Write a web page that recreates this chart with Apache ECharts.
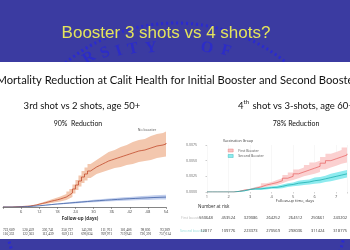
<!DOCTYPE html>
<html>
<head>
<meta charset="utf-8">
<title>Booster 3 shots vs 4 shots?</title>
<script src="https://cdn.jsdelivr.net/npm/echarts@6/dist/echarts.min.js"></script>
<style>
  html, body { margin:0; padding:0; background:#fff; }
  #main { width:350px; height:250px; }
</style>
</head>
<body>
<div id="main"></div>
<script>
// ---- left panel: 3rd shot vs 2 shots (follow-up days) ----
var leftDaysFine = [0,1,2,3,4,5,6,7,8,9,10,11,12,13,14,15,16,17,18,19,20,21,22,23,24,25,26,27,28,29,30,31,32,33,34,35,36,37,38,39,40,41,42,43,44,45,46,47,48,49,50,51,52,53,54];
var noBoosterMid = [0,0,0,0.2,0.3,0.4,0.6,0.8,1,1.5, 2,2.8,3.5,4.2,5,5.8,6.5,7.2,8,9, 10,12,14,18,22,26,30,33,36,38,
                    40,41.5,43,44.5,46,47,48,49,50,51, 52,53,54,55,56,56.5,57,58,59,60, 61,61.5,62,63,64];
var noBoosterLo  = [0,0,0,0.1,0.2,0.3,0.4,0.5,0.7,1.1, 1.5,2,2.5,3,3.5,4,4.5,5,5.5,6.2, 7,8.5,10,13.5,17,20.5,24,26.5,29,31,
                    33,34,35,36,37,38,39,39.5,40,41, 42,42.5,43,44,45,45.5,46,46.5,47,48, 49,49.5,50,50.5,51];
var noBoosterHi  = [0,0,0,0.3,0.4,0.6,0.8,1,1.3,1.9, 2.5,3.5,4.5,5.5,6.5,7.5,8.5,9.5,10.5,11.8, 13,15.5,18,22.5,27,31.5,36,39.5,43,45,
                    47,49,51,53,55,56,57,58.5,60,61, 62,63.5,65,66,67,67.5,68,69.5,71,72, 73,73.5,74,75.5,77];
var leftDays = [0,2,4,6,8,10,12,14,16,18,20,22,24,26,28,30,32,34,36,38,40,42,44,46,48,50,52,54];
var boosterMid = [0,0,0.2,0.4,0.8,1.2,1.8,2.4,3,3.5,4,4.5,5,5.5,6,6.4,6.8,7.2,7.6,8,8.3,8.6,8.9,9.2,9.5,9.7,9.9,10];
var boosterLo  = [0,0,0.1,0.3,0.6,0.9,1.4,1.9,2.4,2.8,3.2,3.6,4.0,4.4,4.8,5.1,5.4,5.7,6.0,6.3,6.5,6.7,6.9,7.1,7.3,7.4,7.5,7.6];
var boosterHi  = [0,0,0.3,0.5,1.0,1.5,2.2,2.9,3.6,4.2,4.8,5.4,6.0,6.6,7.2,7.7,8.2,8.7,9.2,9.7,10.1,10.5,10.9,11.3,11.7,12.0,12.3,12.5];
var leftRiskNo  = ['723,609','520,459','336,741','250,737','145,281','111,761','101,406','98,836','93,389'];
var leftRiskYes = ['110,332','122,303','113,439','659,113','696,834','709,971','719,943','726,391','757,614'];

// ---- right panel: 4th shot vs 3 shots ----
var rightT = [0,0.25,0.5,0.75,1,1.25,1.5,1.75,2,2.25,2.5,2.75,3,3.25,3.5,3.75,4,4.25,4.5,4.75,5,5.25,5.5,5.75,6,6.25,6.5];
var rightTickLabels = ['1','2','3','4','5','6','7'];
var firstMid = [0,0,0,0,0,0.0001,0.0003,0.0004,0.0006,0.0008,0.0011,0.0013,0.0015,0.0018,0.0022,0.0025,0.0029,0.0032,0.0035,0.0038,0.0041,0.0046,0.0050,0.0053,0.0056,0.0059,0.0061];
var firstLo  = [0,0,0,0,0,0.00005,0.0002,0.0003,0.0004,0.0006,0.0008,0.0010,0.0011,0.0014,0.0017,0.0019,0.0022,0.0025,0.0027,0.0029,0.0032,0.0036,0.0039,0.0042,0.0045,0.0047,0.0049];
var firstHi  = [0,0,0,0,0,0.00015,0.0004,0.0005,0.0008,0.0010,0.0014,0.0016,0.0019,0.0022,0.0027,0.0031,0.0036,0.0039,0.0043,0.0047,0.0050,0.0056,0.0061,0.0064,0.0067,0.0071,0.0073];
var secondMid = [0,0,0,0,0,0.0001,0.0002,0.0004,0.0005,0.0005,0.0006,0.0007,0.00075,0.0009,0.0011,0.0012,0.0014,0.0015,0.0016,0.0018,0.0019,0.0021,0.0023,0.0025,0.0027,0.0029,0.0030];
var secondLo  = [0,0,0,0,0,0.00005,0.0001,0.0003,0.0003,0.0003,0.0004,0.0005,0.0005,0.0006,0.0008,0.0009,0.0010,0.0011,0.0012,0.0013,0.0014,0.0016,0.0017,0.0019,0.0021,0.0023,0.0024];
var secondHi  = [0,0,0,0,0,0.00015,0.0003,0.0005,0.0007,0.0007,0.0008,0.0009,0.0010,0.0012,0.0014,0.0015,0.0018,0.0019,0.0020,0.0023,0.0024,0.0026,0.0029,0.0031,0.0033,0.0035,0.0036];
var rightRiskFirst  = ['550648','453524','329086','264252','264512','250661','243202'];
var rightRiskSecond = ['12817','109776','223373','270569','298036','311424','318775'];

function pairs(xs, ys){ return xs.map(function(x,i){ return [x, ys[i]]; }); }

// confidence band: fill up to the upper bound, then mask below the lower bound with white
function band(name, xi, yi, xs, lo, hi, color){
	return [
		{ name:name+'_hi', type:'line', xAxisIndex:xi, yAxisIndex:yi, step:'end',
		  data:pairs(xs, hi), symbol:'none', lineStyle:{opacity:0},
		  areaStyle:{color:color, opacity:1}, silent:true, z:1 },
		{ name:name+'_lo', type:'line', xAxisIndex:xi, yAxisIndex:yi, step:'end',
		  data:pairs(xs, lo), symbol:'none', lineStyle:{opacity:0},
		  areaStyle:{color:'#ffffff', opacity:1}, silent:true, z:1 }
	];
}
function line(name, xi, yi, xs, ys, color){
	return { name:name, type:'line', xAxisIndex:xi, yAxisIndex:yi, step:'end', data:pairs(xs, ys),
	         symbol:'none', lineStyle:{color:color, width:0.8}, itemStyle:{color:color}, z:3 };
}

var sealLetters = [
	['R',89,58,0.55],['S',105,53,0.42],['I',119,51,0.32],['T',133,49,0.22],['Y',151,48,0.1],
	['O',207,48,-0.14],['F',226,51,-0.26]
];
var graphics = [
	{ type:'rect', shape:{x:0,y:0,width:350,height:250}, style:{fill:'#3b3ba1'} },
	{ type:'circle', shape:{cx:176,cy:196,r:173}, style:{fill:null, stroke:'#2a2ad2', lineWidth:3, lineDash:[2,3]} }
];
sealLetters.forEach(function(l){
	graphics.push({ type:'text', x:l[1], y:l[2], rotation:l[3],
		style:{text:l[0], fill:'#2c2cc8', font:'bold 16px "Liberation Serif"', align:'center', verticalAlign:'middle'} });
});
graphics = graphics.concat([
	{ type:'rect', shape:{x:0,y:62,width:350,height:177}, style:{fill:'#ffffff'} },
	{ type:'text', x:166, y:33, style:{text:'Booster 3 shots vs 4 shots?', fill:'#e4e45c',
		font:'17px "Liberation Sans"', align:'center', verticalAlign:'middle'} },
	{ type:'text', x:177, y:80, style:{text:'Mortality Reduction at Calit Health for Initial Booster and Second Booster',
		fill:'#111', font:'11.2px Lato', align:'center', verticalAlign:'middle'} },
	{ type:'text', x:82, y:105.5, style:{text:'3rd shot vs 2 shots, age 50+', fill:'#111',
		font:'9.5px Lato', align:'center', verticalAlign:'middle'} },
	{ type:'text', x:78, y:124, style:{text:'90%  Reduction', fill:'#111',
		font:'7px Lato', align:'center', verticalAlign:'middle'} },
	{ type:'text', x:238, y:105.5, style:{text:'4', fill:'#111', font:'9.5px Lato', align:'left', verticalAlign:'middle'} },
	{ type:'text', x:243.5, y:102, style:{text:'th', fill:'#111', font:'6px Lato', align:'left', verticalAlign:'middle'} },
	{ type:'text', x:252.5, y:105.5, style:{text:'shot vs 3-shots, age 60+', fill:'#111', font:'9.5px Lato', align:'left', verticalAlign:'middle'} },
	{ type:'text', x:296, y:124, style:{text:'78% Reduction', fill:'#111',
		font:'7px Lato', align:'center', verticalAlign:'middle'} },
	{ type:'text', x:147, y:130, style:{text:'No booster', fill:'#555', font:'3.5px "Open Sans"', align:'center', verticalAlign:'middle'} },
	{ type:'text', x:152, y:192, style:{text:'Booster', fill:'#555', font:'3.5px "Open Sans"', align:'center', verticalAlign:'middle'} },
	{ type:'text', x:80, y:219, style:{text:'Follow-up (days)', fill:'#333', font:'bold 4.5px "Open Sans"', align:'center', verticalAlign:'middle'} },
	{ type:'text', x:223, y:141, style:{text:'Vaccination Group', fill:'#333', font:'3.5px "Open Sans"', align:'left', verticalAlign:'middle'} },
	{ type:'text', x:295, y:201, style:{text:'Follow-up time, days', fill:'#333', font:'4px "Open Sans"', align:'center', verticalAlign:'middle'} },
	{ type:'text', x:198, y:207, style:{text:'Number at risk', fill:'#222', font:'4.5px "Open Sans"', align:'left', verticalAlign:'middle'} },
	{ type:'text', x:181, y:218, style:{text:'First booster', fill:'#bbb', font:'3.5px "Open Sans"', align:'left', verticalAlign:'middle'} },
	{ type:'text', x:180, y:231, style:{text:'Second booster', fill:'#9dd', font:'3.5px "Open Sans"', align:'left', verticalAlign:'middle'} }
]);

var myChart = echarts.init(document.getElementById('main'), null, {renderer:'canvas'});
var series = []
	.concat(band('nb', 0, 0, leftDaysFine, noBoosterLo, noBoosterHi, '#f3c7ae'))
	.concat(band('bo', 0, 0, leftDays, boosterLo, boosterHi, '#c3d0ee'))
	.concat(band('fb', 1, 1, rightT, firstLo, firstHi, '#fbd0d0'))
	.concat(band('sb', 1, 1, rightT, secondLo, secondHi, '#8eebef'));
series.push(line('No booster', 0, 0, leftDaysFine, noBoosterMid, '#c24a2c'));
series.push(line('Booster', 0, 0, leftDays, boosterMid, '#3f5fa5'));
series.push(line('First Booster', 1, 1, rightT, firstMid, '#e86b6b'));
series.push(line('Second Booster', 1, 1, rightT, secondMid, '#1fb0b0'));
// empty series so the number-at-risk axes have something to hold
series.push({ type:'line', xAxisIndex:2, yAxisIndex:2, data:[], silent:true });
series.push({ type:'line', xAxisIndex:3, yAxisIndex:3, data:[], silent:true });

var option = {
	animation:false,
	backgroundColor:'#ffffff',
	graphic:{ elements:graphics },
	legend:{
		left:223, top:143.5, orient:'vertical', itemWidth:5, itemHeight:3, itemGap:1.5,
		textStyle:{fontSize:3.5, color:'#555', fontFamily:'Open Sans'},
		data:[
			{name:'First Booster', icon:'rect', itemStyle:{color:'#f9c4c4', borderColor:'#e86b6b', borderWidth:0.4}},
			{name:'Second Booster', icon:'rect', itemStyle:{color:'#8eebef', borderColor:'#1fb0b0', borderWidth:0.4}}
		]
	},
	grid:[
		{ left:-7, right:184, top:107, bottom:43 },
		{ left:207, right:-3.25, top:145, bottom:58 },
		{ left:5, right:185, top:226, height:1 },
		{ left:206, right:8, top:208, height:1 }
	],
	xAxis:[
		{ gridIndex:0, type:'value', min:0, max:54, interval:6, z:5,
		  axisLine:{lineStyle:{color:'#666', width:0.8}},
		  axisTick:{length:2, lineStyle:{color:'#666', width:0.6}},
		  axisLabel:{fontSize:4, color:'#444', margin:3, fontFamily:'Open Sans',
		             formatter:function(v){ return v === 0 ? '' : String(v); }},
		  splitLine:{show:false} },
		{ gridIndex:1, type:'value', min:0, max:6.5, interval:1,
		  axisLine:{show:false},
		  axisTick:{show:true, length:1.5, lineStyle:{color:'#aaa', width:0.5}},
		  axisLabel:{fontSize:4, color:'#555', margin:3, fontFamily:'Open Sans',
		             formatter:function(v){ return rightTickLabels[Math.round(v)] || ''; }},
		  splitLine:{show:true, lineStyle:{color:'#f1f1f1', width:0.6}} },
		{ gridIndex:2, type:'category', data:leftRiskNo.map(function(s,i){ return s+'\n'+leftRiskYes[i]; }),
		  boundaryGap:false, axisLine:{show:false}, axisTick:{show:false},
		  axisLabel:{interval:0, fontSize:3.5, lineHeight:4, color:'#333', margin:1, fontFamily:'Liberation Serif'} },
		{ gridIndex:3, type:'category', data:rightRiskFirst.map(function(s,i){ return s+'\n'+rightRiskSecond[i]; }),
		  boundaryGap:false, axisLine:{show:false}, axisTick:{show:false},
		  axisLabel:{interval:0, fontSize:4, lineHeight:13, color:'#333', margin:2.5, fontFamily:'Open Sans'} }
	],
	yAxis:[
		{ gridIndex:0, type:'value', min:0, max:100, show:false },
		{ gridIndex:1, type:'value', min:0, max:0.0075, interval:0.0025, offset:8,
		  axisLine:{show:false},
		  axisTick:{show:true, length:1.5, lineStyle:{color:'#999', width:0.5}},
		  axisLabel:{fontSize:3.5, color:'#666', margin:2, fontFamily:'Open Sans',
		             formatter:function(v){ return v.toFixed(4); }},
		  splitLine:{show:false} },
		{ gridIndex:2, type:'value', show:false },
		{ gridIndex:3, type:'value', show:false }
	],
	series:series
};
myChart.setOption(option);
</script>
</body>
</html>
